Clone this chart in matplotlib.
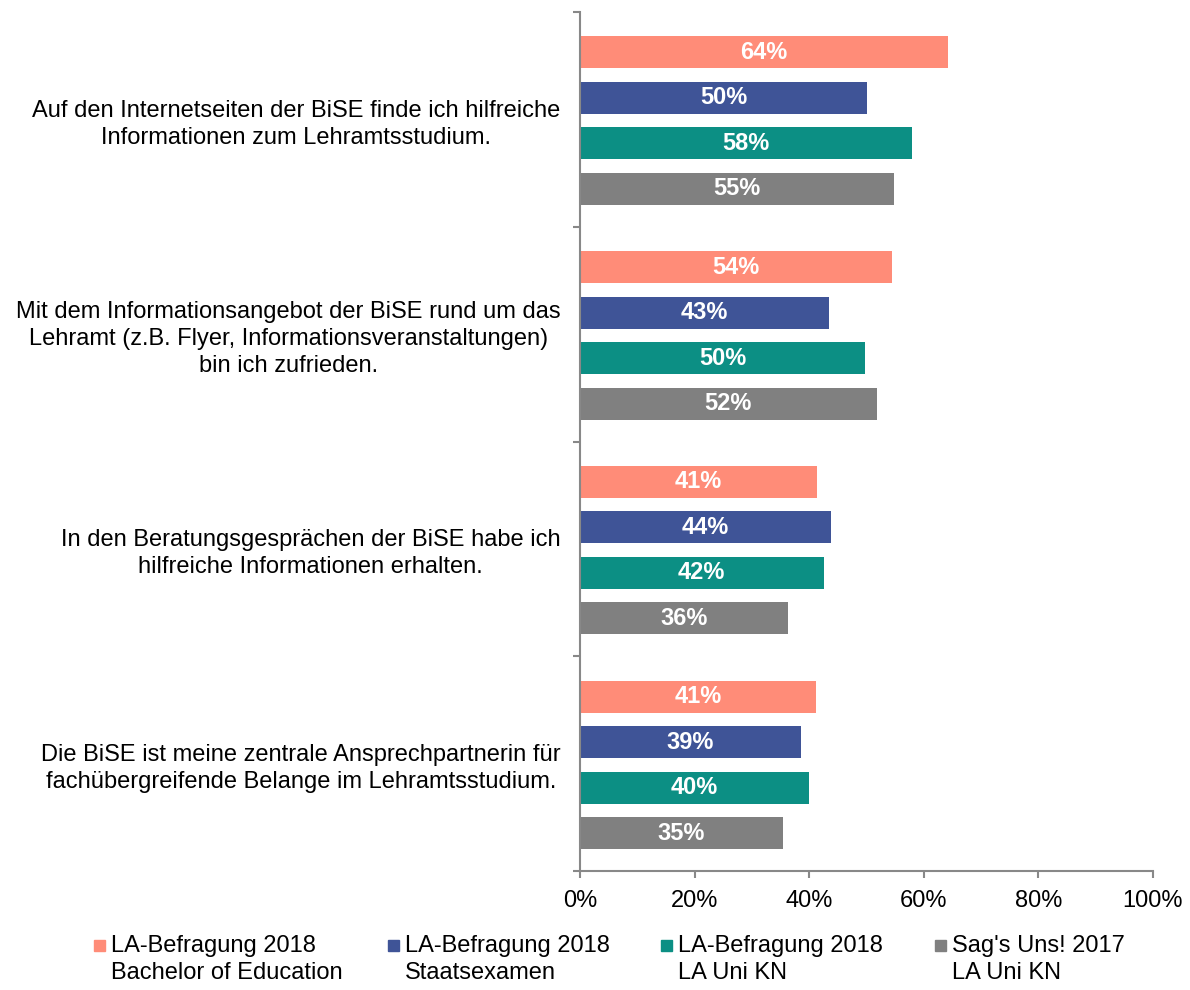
import numpy as np
import matplotlib.pyplot as plt
from matplotlib.patches import Rectangle

plt.rcParams['font.family'] = ['Liberation Sans', 'DejaVu Sans']

# statements (top to bottom)
categories = ['Auf den Internetseiten der BiSE finde ich hilfreiche\nInformationen zum Lehramtsstudium.',
              'Mit dem Informationsangebot der BiSE rund um das\nLehramt (z.B. Flyer, Informationsveranstaltungen)\nbin ich zufrieden.',
              'In den Beratungsgesprächen der BiSE habe ich\nhilfreiche Informationen erhalten.',
              'Die BiSE ist meine zentrale Ansprechpartnerin für\nfachübergreifende Belange im Lehramtsstudium.']

series_names = ['LA-Befragung 2018\nBachelor of Education',
                'LA-Befragung 2018\nStaatsexamen',
                'LA-Befragung 2018\nLA Uni KN',
                "Sag's Uns! 2017\nLA Uni KN"]

# share of agreement in %, one list per series (per category)
bachelor = [64.2, 54.4, 41.3, 41.2]
staatsexamen = [50.1, 43.4, 43.8, 38.6]
la_uni_kn = [58.0, 49.7, 42.5, 39.9]
sags_uns = [54.8, 51.8, 36.3, 35.4]

colors = ['#FF8C78', '#3F5497', '#0C8F84', '#808080']
values = [bachelor, staatsexamen, la_uni_kn, sags_uns]

fs = 17

fig = plt.figure(figsize=(11.9, 9.9), dpi=100)
ax = fig.add_axes([580/1190, 1-871/990, 573/1190, 859/990])

step = 0.212
bar_h = 0.149
y_cat = np.arange(len(categories)) + 0.5

for j, (vals, col) in enumerate(zip(values, colors)):
    ypos = y_cat + (j - 1.5) * step + 0.006
    ax.barh(ypos, vals, height=bar_h, color=col)
    for y, v in zip(ypos, vals):
        ax.text(v/2, y, f'{v:.0f}%', ha='center', va='center', color='white',
                fontsize=fs, fontweight='bold')

ax.set_xlim(0, 100)
ax.set_ylim(len(categories), 0)
ax.set_xticks(np.arange(0, 101, 20))
ax.set_xticklabels([f'{t}%' for t in range(0, 101, 20)], fontsize=fs)
ax.set_yticks(np.arange(len(categories)+1))
ax.set_yticklabels([])
ax.set_yticks(y_cat, minor=True)
ax.set_yticklabels(categories, minor=True, fontsize=fs, ha='right', multialignment='center',
                   linespacing=1.3)

for s in ['top', 'right']:
    ax.spines[s].set_visible(False)
for s in ['left', 'bottom']:
    ax.spines[s].set_color('#888888')
    ax.spines[s].set_linewidth(1.5)
ax.tick_params(axis='x', which='major', length=5, width=1.5, color='#888888', pad=9)
ax.tick_params(axis='y', which='major', length=5, width=1.5, color='#888888')
ax.tick_params(axis='y', which='minor', length=0, pad=14)

# legend along the bottom
leg_x = [94, 388, 661, 935]
for x, name, col in zip(leg_x, series_names, colors):
    fig.patches.append(Rectangle((x/1190, 1-951/990), 11/1190, 11/990,
                                 transform=fig.transFigure, color=col))
    fig.text((x+17)/1190, 1-935/990, name, ha='left', va='top', fontsize=fs,
             linespacing=1.3)

fig.savefig('out.png', dpi=100)
